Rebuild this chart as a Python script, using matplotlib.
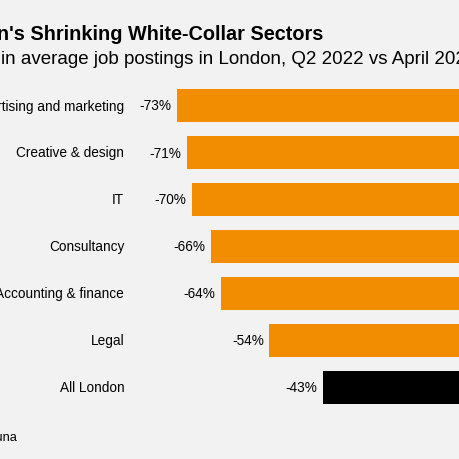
import matplotlib
matplotlib.use("Agg")
import matplotlib.pyplot as plt

plt.rcParams["font.family"] = ["Liberation Sans", "DejaVu Sans"]

# Data
sectors = ["Advertising and marketing", "Creative & design", "IT", "Consultancy",
           "Accounting & finance", "Legal", "All London"]
changes = [-73, -71, -70, -66, -64, -54, -43]
bar_colors = ["#f28c00"] * 6 + ["#000000"]

title = "London's Shrinking White-Collar Sectors"
subtitle = "Change in average job postings in London, Q2 2022 vs April 2023"
source = "Source: Adzuna"

W = H = 460
bg = "#f2f2f2"

fig = plt.figure(figsize=(4.6, 4.6), dpi=100, facecolor=bg)

# axes run past the right edge, the zero line sits off-canvas like in the crop
x_left, x_zero = 177, 532
top, bottom = 83, 412
ax = fig.add_axes([x_left / W, (H - bottom) / H, (x_zero - x_left) / W, (bottom - top) / H])
ax.set_facecolor(bg)

ypos = list(range(len(sectors)))
ax.barh(ypos, changes, height=0.70, color=bar_colors, left=0)
ax.set_xlim(-73, 0)
ax.set_ylim(len(sectors) - 0.5, -0.5)

ax.set_yticks(ypos)
ax.set_yticklabels(sectors, fontsize=9.8, va="center")
ax.tick_params(axis="y", length=0, pad=38)
ax.set_xticks([])
for s in ax.spines.values():
    s.set_visible(False)

for y, v in zip(ypos, changes):
    ax.annotate(f"{v}%", (v, y), xytext=(-4, 0), textcoords="offset points",
                ha="right", va="center", fontsize=9.8)

# title, right end lands where the crop shows it
fig.text(323 / W, 1 - 34 / H, title, ha="right", va="center",
         fontsize=14.3, fontweight="bold")

# subtitle starts cut at "in"
fig.canvas.draw()
r = fig.canvas.get_renderer()
probe = fig.text(0, 0, "Change ", fontsize=13.5)
wpx = probe.get_window_extent(r).width
probe.remove()
fig.text((1 - wpx) / W, 1 - 60 / H, subtitle, ha="left", va="center", fontsize=13.5)

fig.text(17 / W, 1 - 438 / H, source, ha="right", va="center", fontsize=9.3)

fig.savefig("out.png", dpi=100, facecolor=bg)
